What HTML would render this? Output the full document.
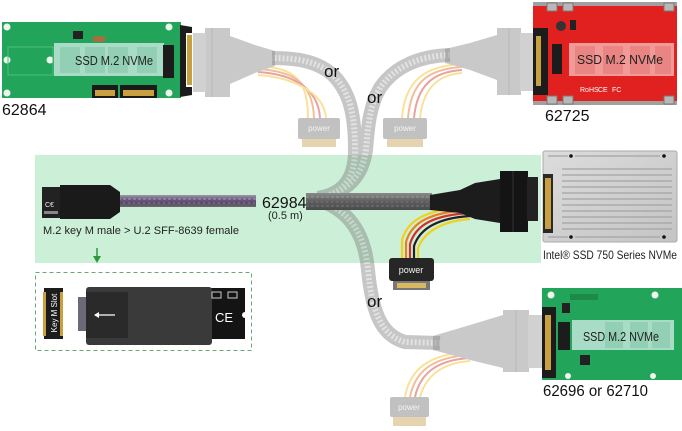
<!DOCTYPE html>
<html><head><meta charset="utf-8">
<style>
html,body{margin:0;padding:0;background:#fff;}
svg{display:block;}
text{font-family:"Liberation Sans",Arial,sans-serif;}
</style></head><body>
<svg width="682" height="431" viewBox="0 0 682 431" xmlns="http://www.w3.org/2000/svg">
<defs>
  <linearGradient id="pc" x1="0" y1="0" x2="0" y2="1">
    <stop offset="0" stop-color="#9a9aa0"/><stop offset=".35" stop-color="#6e5c80"/>
    <stop offset=".65" stop-color="#5a4a6a"/><stop offset="1" stop-color="#6a6a6a"/>
  </linearGradient>
  <linearGradient id="gc" x1="0" y1="0" x2="0" y2="1">
    <stop offset="0" stop-color="#8a8a8a"/><stop offset=".5" stop-color="#5e5e5e"/><stop offset="1" stop-color="#4a4a4a"/>
  </linearGradient>
  <linearGradient id="ssd" x1="0" y1="0" x2="1" y2="1">
    <stop offset="0" stop-color="#dcdcdc"/><stop offset="1" stop-color="#c4c4c4"/>
  </linearGradient>
</defs>
<rect width="682" height="431" fill="#fff"/>

<!-- green band -->
<rect x="35" y="155" width="506" height="108" fill="#ccefd7"/>

<!-- faded cables -->
<g opacity="0.42" fill="none" stroke-linecap="butt">
  <path d="M318 198 C342 194 355 180 355 150 C355 115 350 92 333 75 C318 62 300 58 272 58" stroke="#7a7a7a" stroke-width="14"/>
  <path d="M318 198 C345 193 362 178 366 150 C368 125 370 105 380 88 C395 66 420 56 450 55" stroke="#7a7a7a" stroke-width="14"/>
  <path d="M318 200 C350 210 365 235 368 270 C372 310 380 335 405 342 L440 343" stroke="#7a7a7a" stroke-width="14"/>
  <path d="M318 198 C342 194 355 180 355 150 C355 115 350 92 333 75 C318 62 300 58 272 58" stroke="#bbb" stroke-width="6" stroke-dasharray="2 2"/>
  <path d="M318 198 C345 193 362 178 366 150 C368 125 370 105 380 88 C395 66 420 56 450 55" stroke="#bbb" stroke-width="6" stroke-dasharray="2 2"/>
  <path d="M318 200 C350 210 365 235 368 270 C372 310 380 335 405 342 L440 343" stroke="#bbb" stroke-width="6" stroke-dasharray="2 2"/>
</g>

<!-- faded wires & connectors -->
<g opacity="0.45">
  <!-- top-left -->
  <g fill="none" stroke-width="2">
    <path d="M258 66 C295 68 308 80 308 118" stroke="#f0c020"/>
    <path d="M258 69 C292 71 313 82 314 118" stroke="#e07020"/>
    <path d="M258 72 C290 74 318 86 320 118" stroke="#d03030"/>
    <path d="M258 75 C288 77 324 90 326 118" stroke="#f0c020"/>
  </g>
  <polygon points="230,36 255,45 275,51 275,66 255,73 230,84" fill="#8a8a8a"/>
  <rect x="205" y="28" width="25" height="69" fill="#8a8a8a"/>
  <rect x="193" y="33" width="13" height="59" fill="#9a9a9a"/>
  <line x1="212" y1="28" x2="212" y2="97" stroke="#666" stroke-width="1"/>
  <rect x="298" y="118" width="42" height="21" rx="2" fill="#777"/>
  <rect x="302" y="139" width="34" height="8" fill="#c8a050"/>
  <!-- top-right -->
  <g fill="none" stroke-width="2">
    <path d="M462 64 C425 66 405 80 402 118" stroke="#f0c020"/>
    <path d="M462 67 C428 69 411 82 408 118" stroke="#e07020"/>
    <path d="M462 70 C432 72 417 86 414 118" stroke="#d03030"/>
    <path d="M462 73 C436 75 423 90 420 118" stroke="#f0c020"/>
  </g>
  <polygon points="497,35 470,43 445,49 445,63 470,70 497,80" fill="#8a8a8a"/>
  <rect x="497" y="28" width="24" height="67" fill="#8a8a8a"/>
  <rect x="520" y="33" width="13" height="58" fill="#9a9a9a"/>
  <line x1="509" y1="28" x2="509" y2="95" stroke="#666" stroke-width="1"/>
  <rect x="383" y="118" width="44" height="21" rx="2" fill="#777"/>
  <rect x="387" y="139" width="36" height="8" fill="#c8a050"/>
  <!-- bottom -->
  <g fill="none" stroke-width="2">
    <path d="M470 352 C430 354 410 368 405 397" stroke="#f0c020"/>
    <path d="M470 355 C433 357 415 371 410 397" stroke="#e07020"/>
    <path d="M470 358 C436 360 420 374 415 397" stroke="#d03030"/>
    <path d="M470 361 C440 363 425 378 420 397" stroke="#f0c020"/>
  </g>
  <polygon points="433,336 470,325 503,315 503,368 470,360 433,350" fill="#8a8a8a"/>
  <rect x="503" y="310" width="26" height="62" fill="#8a8a8a"/>
  <rect x="528" y="315" width="14" height="53" fill="#9a9a9a"/>
  <line x1="516" y1="310" x2="516" y2="372" stroke="#666" stroke-width="1"/>
  <rect x="390" y="397" width="39" height="20" rx="2" fill="#777"/>
  <rect x="393" y="417" width="33" height="9" fill="#c8a050"/>
</g>
<g font-size="8" fill="#f4f4f4" text-anchor="middle">
  <text x="319" y="131">power</text>
  <text x="405" y="131">power</text>
  <text x="409" y="410">power</text>
</g>

<!-- top-left green board -->
<rect x="2" y="22" width="179" height="76" fill="#22a55a"/>
<g fill="#eef6ee">
  <circle cx="7" cy="27" r="3.5"/><circle cx="7" cy="60" r="3.5"/><circle cx="50" cy="60" r="3.5"/>
  <circle cx="7" cy="93" r="3.5"/><circle cx="169" cy="27" r="3.5"/><circle cx="169" cy="93" r="3.5"/>
</g>
<rect x="8" y="47" width="45" height="28" fill="none" stroke="#4fc07c" stroke-width="1"/>
<rect x="73" y="31" width="10" height="8" fill="#222"/>
<rect x="93" y="36" width="12" height="6" fill="#a07040"/>
<rect x="54" y="43" width="110" height="33" fill="#a8dcc6"/>
<g fill="#92cfb4"><rect x="60" y="47" width="20" height="26"/><rect x="85" y="47" width="20" height="26"/><rect x="108" y="47" width="20" height="26"/><rect x="137" y="47" width="20" height="26"/></g>
<rect x="163" y="45" width="11" height="33" fill="#1c1c1c"/>
<rect x="92" y="85" width="26" height="13" fill="#1a1a1a"/><rect x="120" y="85" width="37" height="13" fill="#1a1a1a"/>
<rect x="95" y="90" width="20" height="6" fill="#c8a040"/><rect x="123" y="90" width="31" height="6" fill="#c8a040"/>
<path d="M180 25 L192 27 L192 33 L186 33 L186 87 L192 87 L192 95 L180 97 Z" fill="#1c1c1c"/>
<rect x="187" y="35" width="5" height="50" fill="#c8a040"/>
<text x="75" y="65" font-size="13" fill="#222" textLength="78" lengthAdjust="spacingAndGlyphs">SSD M.2 NVMe</text>
<text x="2" y="115" font-size="16" fill="#111">62864</text>

<!-- top-right red board -->
<rect x="533" y="2" width="144" height="103" fill="#e0211f"/>
<rect x="533" y="2" width="144" height="4" fill="#a0a0a0"/>
<rect x="533" y="101" width="144" height="4" fill="#a0a0a0"/>
<g fill="#b8b8b8" stroke="#777" stroke-width="1">
  <rect x="547" y="3" width="10" height="8"/><rect x="563" y="3" width="10" height="8"/><rect x="664" y="3" width="10" height="8"/>
  <rect x="547" y="96" width="10" height="8"/><rect x="563" y="96" width="10" height="8"/><rect x="664" y="96" width="10" height="8"/>
</g>
<circle cx="561" cy="26" r="5" fill="#333"/><rect x="570" y="20" width="6" height="10" fill="#222"/>
<path d="M533 28 L548 28 L548 95 L533 95 Z" fill="#1c1c1c"/>
<rect x="536" y="36" width="5" height="50" fill="#c8a040"/>
<rect x="552" y="44" width="10" height="30" fill="#1c1c1c"/>
<rect x="569" y="43" width="105" height="33" fill="#f29a98"/>
<g fill="#e98684"><rect x="575" y="46" width="20" height="28"/><rect x="603" y="46" width="20" height="28"/><rect x="630" y="46" width="20" height="28"/><rect x="655" y="46" width="16" height="28"/></g>
<text x="577" y="64" font-size="13" fill="#222" textLength="86" lengthAdjust="spacingAndGlyphs">SSD M.2 NVMe</text>
<g fill="#fff" font-size="7"><text x="580" y="92">RoHS</text><text x="598" y="92">CE</text><text x="612" y="92">FC</text></g>
<text x="545" y="121" font-size="16" fill="#111">62725</text>

<!-- main cable -->
<rect x="118" y="195" width="138" height="12" fill="url(#pc)"/>
<line x1="118" y1="199" x2="256" y2="199" stroke="#a898b8" stroke-width="1" stroke-dasharray="3 2"/>
<line x1="118" y1="203" x2="256" y2="203" stroke="#8878a0" stroke-width="1" stroke-dasharray="2 3"/>
<rect x="42" y="187" width="20" height="31" fill="#222"/>
<text x="45" y="207" font-size="7" fill="#eee">C€</text>
<rect x="44" y="211" width="14" height="3" fill="#888"/>
<polygon points="60,185 110,185 120,192 120,212 110,219 60,219" fill="#1a1a1a"/>
<rect x="306" y="193" width="126" height="17" fill="url(#gc)"/>
<line x1="306" y1="197" x2="432" y2="197" stroke="#999" stroke-width="1" stroke-dasharray="3 2"/>
<line x1="306" y1="202" x2="432" y2="202" stroke="#777" stroke-width="1" stroke-dasharray="2 3"/>
<line x1="306" y1="206" x2="432" y2="206" stroke="#777" stroke-width="1" stroke-dasharray="3 2"/>
<!-- main wires -->
<g fill="none" stroke-width="2.2">
  <path d="M470 207 C430 209 408 218 402 240 L402 258" stroke="#f2d020"/>
  <path d="M470 210 C432 212 412 221 406 242 L406 258" stroke="#e88020"/>
  <path d="M470 213 C435 215 416 224 410 244 L410 258" stroke="#d03030"/>
  <path d="M470 216 C438 218 420 228 414 246 L414 258" stroke="#222"/>
  <path d="M470 219 C442 221 424 232 418 248 L418 258" stroke="#f2d020"/>
</g>
<polygon points="430,195 460,190 475,183 500,179 500,223 475,219 460,213 430,210" fill="#1c1c1c"/>
<rect x="500" y="171" width="28" height="61" fill="#141414"/>
<line x1="513" y1="171" x2="513" y2="232" stroke="#333" stroke-width="1"/>
<rect x="527" y="177" width="11" height="44" fill="#222"/>
<!-- main power -->
<rect x="389" y="258" width="45" height="23" rx="3" fill="#262626"/>
<text x="411" y="273" font-size="9" fill="#f4f4f4" text-anchor="middle">power</text>
<rect x="393" y="281" width="37" height="9" fill="#777"/>
<rect x="397" y="283" width="29" height="5" fill="#d8b860"/>

<!-- Intel SSD -->
<rect x="543" y="151" width="134" height="91" rx="2" fill="url(#ssd)" stroke="#aaa" stroke-width="1"/>
<g stroke="#a4a4a4" stroke-width="1.2">
  <line x1="548" y1="156" x2="568" y2="156"/><line x1="575" y1="156" x2="660" y2="156"/>
  <line x1="548" y1="237" x2="568" y2="237"/><line x1="575" y1="237" x2="660" y2="237"/>
  <line x1="562" y1="169" x2="672" y2="169"/><line x1="562" y1="175" x2="672" y2="175"/>
  <line x1="562" y1="181" x2="672" y2="181"/><line x1="562" y1="187" x2="672" y2="187"/>
  <line x1="562" y1="193" x2="672" y2="193"/><line x1="562" y1="199" x2="672" y2="199"/>
  <line x1="562" y1="205" x2="672" y2="205"/><line x1="562" y1="211" x2="672" y2="211"/>
  <line x1="562" y1="217" x2="672" y2="217"/><line x1="562" y1="223" x2="672" y2="223"/>
  <line x1="562" y1="229" x2="672" y2="229"/>
</g>
<g fill="#111"><circle cx="571" cy="156" r="1.8"/><circle cx="664" cy="156" r="1.8"/><circle cx="571" cy="237" r="1.8"/><circle cx="664" cy="237" r="1.8"/></g>
<rect x="543" y="174" width="10" height="59" fill="#2a2a2a"/>
<rect x="545" y="178" width="6" height="51" fill="#c8a040"/>
<text x="543" y="259" font-size="12" fill="#222" textLength="134" lengthAdjust="spacingAndGlyphs">Intel® SSD 750 Series NVMe</text>

<!-- labels -->
<text x="262" y="208" font-size="16" fill="#111">62984</text>
<text x="268" y="219" font-size="11" fill="#222">(0.5 m)</text>
<text x="43" y="234" font-size="11" fill="#222" textLength="196" lengthAdjust="spacingAndGlyphs">M.2 key M male &gt; U.2 SFF-8639 female</text>
<g font-size="17" fill="#111"><text x="324" y="77">or</text><text x="367" y="103">or</text><text x="367" y="307">or</text></g>

<!-- green arrow -->
<line x1="97" y1="248" x2="97" y2="259" stroke="#2a9a3a" stroke-width="1.5"/>
<polygon points="93,256 101,256 97,263" fill="#2a9a3a"/>

<!-- dashed box -->
<rect x="35.5" y="272.5" width="216" height="78" fill="none" stroke="#6aa87a" stroke-width="1" stroke-dasharray="4 3"/>
<rect x="44" y="288" width="19" height="51" fill="#1c1c1c"/>
<rect x="43" y="292" width="3" height="44" fill="#c8a040"/><rect x="60" y="292" width="3" height="44" fill="#c8a040"/>
<text transform="translate(57,313) rotate(-90)" font-size="8" fill="#fff" text-anchor="middle">Key M Slot</text>
<rect x="78" y="297" width="12" height="34" fill="#6a6a7a"/>
<rect x="97" y="288" width="148" height="51" fill="#141414"/>
<rect x="97" y="290" width="4" height="47" fill="#c8a040"/>
<rect x="86" y="287" width="126" height="58" rx="3" fill="#3a3a3a"/>
<rect x="86" y="292" width="42" height="46" fill="#2a2a2a"/>
<line x1="95" y1="315" x2="115" y2="315" stroke="#fff" stroke-width="1.2"/>
<polygon points="94,315 99,312 99,318" fill="#fff"/>
<text x="215" y="322" font-size="13" fill="#fff">CE</text>
<circle cx="245" cy="315" r="3" fill="#fff"/>
<rect x="212" y="292" width="9" height="6" fill="none" stroke="#ccc" stroke-width="1"/>
<rect x="228" y="292" width="9" height="6" fill="none" stroke="#ccc" stroke-width="1"/>

<!-- bottom-right green board -->
<rect x="542" y="288" width="140" height="92" fill="#22a55a"/>
<g fill="#eef6ee"><circle cx="551" cy="295" r="3.5"/><circle cx="655" cy="295" r="3.5"/><circle cx="568" cy="376" r="3"/><circle cx="653" cy="376" r="3"/></g>
<rect x="570" y="294" width="28" height="6" fill="#1f8a48"/>
<rect x="562" y="303" width="8" height="10" fill="#222"/>
<rect x="572" y="320" width="102" height="30" fill="#a8dcc6"/>
<g fill="#92cfb4"><rect x="605" y="322" width="18" height="26"/><rect x="630" y="322" width="18" height="26"/><rect x="652" y="322" width="18" height="26"/></g>
<rect x="558" y="322" width="12" height="28" fill="#1c1c1c"/>
<rect x="580" y="355" width="10" height="10" fill="#222"/>
<path d="M542 307 L556 307 L556 378 L542 378 Z" fill="#1c1c1c"/>
<rect x="545" y="315" width="6" height="55" fill="#c8a040"/>
<text x="583" y="341" font-size="13" fill="#222" textLength="76" lengthAdjust="spacingAndGlyphs">SSD M.2 NVMe</text>
<text x="543" y="396" font-size="16" fill="#111" textLength="105" lengthAdjust="spacingAndGlyphs">62696 or 62710</text>
</svg>
</body></html>
